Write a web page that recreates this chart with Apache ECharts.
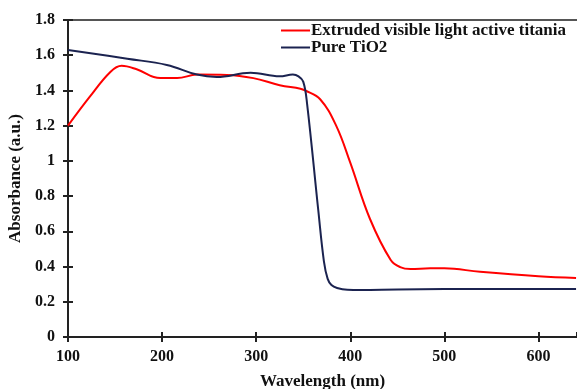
<html>
<head>
    <meta charset="utf-8">
    <title>Absorbance</title>
    <script src="https://cdn.jsdelivr.net/npm/echarts@6/dist/echarts.min.js"></script>
    <style>
        body { margin: 0; background: #fff; }
    </style>
</head>
<body>
    <div id="main" style="width: 577px;height:389px;"></div>
</body>
<script type="text/javascript">
    var redName = 'Extruded visible light active titania';
    var blueName = 'Pure TiO2';
    var redX = [100, 123, 145, 157, 173, 198, 216, 237, 269, 297, 325, 347, 352, 368, 385, 400, 421, 443, 453, 464, 485, 500, 538, 600, 640];
    var redY = [1.20, 1.363, 1.505, 1.54, 1.52, 1.47, 1.47, 1.49, 1.488, 1.47, 1.43, 1.41, 1.40, 1.35, 1.20, 0.99, 0.67, 0.437, 0.397, 0.386, 0.39, 0.39, 0.37, 0.345, 0.335];
    var blueX = [100, 163, 205, 237, 258, 294, 325, 339, 345, 350, 354, 366, 372, 376, 380, 386, 397, 411, 450, 500, 640];
    var blueY = [1.63, 1.58, 1.545, 1.49, 1.476, 1.50, 1.48, 1.49, 1.48, 1.45, 1.33, 0.72, 0.43, 0.33, 0.295, 0.278, 0.268, 0.267, 0.27, 0.272, 0.272];

    function pairs(xs, ys) {
        var out = [];
        for (var i = 0; i < xs.length; i++) {
            out.push([xs[i], ys[i]]);
        }
        return out;
    }

    var font = 'Liberation Serif';
    var axisColor = '#222';
    var myChart = echarts.init(document.getElementById('main'));

    var option = {
        animation: false,
        grid: { left: 68, right: 0, top: 20, bottom: 52, containLabel: false, outerBoundsMode: 'none' },
        legend: {
            orient: 'vertical',
            left: 276,
            top: 17,
            itemGap: 0,
            itemWidth: 29,
            itemHeight: 2,
            icon: 'rect',
            textStyle: { fontFamily: font, fontWeight: 'bold', fontSize: 17, color: '#111', padding: [0, 0, 0, -4] },
            data: [redName, blueName]
        },
        xAxis: [{
            type: 'value',
            min: 100,
            max: 641,
            interval: 100,
            name: 'Wavelength (nm)',
            nameLocation: 'middle',
            nameGap: 36,
            nameTextStyle: { fontFamily: font, fontWeight: 'bold', fontSize: 17, color: '#111' },
            axisLine: { lineStyle: { color: axisColor, width: 2 } },
            axisTick: { length: 5, lineStyle: { color: axisColor, width: 2 } },
            axisLabel: { fontFamily: font, fontWeight: 'bold', fontSize: 16, color: '#111', margin: 12, showMaxLabel: false },
            splitLine: { show: false }
        }, {
            type: 'value',
            position: 'bottom',
            min: 100,
            max: 641,
            interval: 100,
            axisLine: { show: false },
            axisTick: { inside: true, length: 5, lineStyle: { color: axisColor, width: 2 } },
            axisLabel: { show: false },
            splitLine: { show: false }
        }, {
            type: 'value',
            position: 'top',
            min: 100,
            max: 641,
            axisLine: { lineStyle: { color: '#555', width: 2 } },
            axisTick: { show: false },
            axisLabel: { show: false },
            splitLine: { show: false }
        }],
        yAxis: [{
            type: 'value',
            min: 0,
            max: 1.8,
            interval: 0.2,
            name: 'Absorbance (a.u.)',
            nameLocation: 'middle',
            nameGap: 34,
            nameTextStyle: { fontFamily: font, fontWeight: 'bold', fontSize: 17, color: '#111' },
            axisLine: { show: true, lineStyle: { color: axisColor, width: 2 } },
            axisTick: { show: true, length: 5, lineStyle: { color: axisColor, width: 2 } },
            axisLabel: { fontFamily: font, fontWeight: 'bold', fontSize: 16, color: '#111', margin: 13 },
            splitLine: { show: false }
        }, {
            type: 'value',
            position: 'left',
            min: 0,
            max: 1.8,
            interval: 0.2,
            axisLine: { show: false },
            axisTick: { show: true, inside: true, length: 5, lineStyle: { color: axisColor, width: 2 } },
            axisLabel: { show: false },
            splitLine: { show: false }
        }],
        series: [{
            name: redName,
            type: 'line',
            smooth: 0.4,
            showSymbol: false,
            symbol: 'none',
            itemStyle: { color: '#ff0000' },
            lineStyle: { color: '#ff0000', width: 2 },
            data: pairs(redX, redY)
        }, {
            name: blueName,
            type: 'line',
            smooth: 0.4,
            showSymbol: false,
            symbol: 'none',
            itemStyle: { color: '#1b2350' },
            lineStyle: { color: '#1b2350', width: 2 },
            data: pairs(blueX, blueY)
        }]
    };

    myChart.setOption(option);
</script>
</html>
